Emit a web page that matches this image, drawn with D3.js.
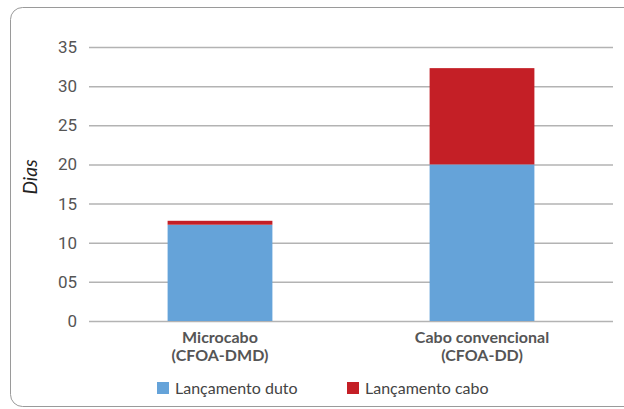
<!DOCTYPE html>
<html><head><meta charset="utf-8">
<script src="https://cdn.jsdelivr.net/npm/d3@7"></script>
<style>body{margin:0;background:#fff;}svg{display:block;}</style>
</head><body>
<script>
const categories = [["Microcabo","(CFOA-DMD)"],["Cabo convencional","(CFOA-DD)"]];
const seriesNames = ["Lançamento duto","Lançamento cabo"];
const dutoValues = [12.3, 20];
const caboValues = [0.5, 12.3];
const tickValues = [0,5,10,15,20,25,30,35];
const tickLabels = ["0","05","10","15","20","25","30","35"];
const colors = ["#65a3d9","#c41f26"];

const W=624,H=409;
const svg=d3.select("body").append("svg").attr("width",W).attr("height",H);
svg.append("rect").attr("x",10.5).attr("y",7.5).attr("width",640).attr("height",399)
  .attr("rx",12).attr("fill","#fff").attr("stroke","#9a9a9a").attr("stroke-width",1);

const x0=89,x1=613,yTop=47,yBot=321;
const x=d3.scaleBand().domain(d3.range(categories.length)).range([x0,x1]).paddingInner(0.6).paddingOuter(0.3);
const y=d3.scaleLinear().domain([0,35]).range([yBot,yTop]);

const yAxis=d3.axisLeft(y).tickValues(tickValues).tickSize(-(x1-x0)).tickFormat((d,i)=>tickLabels[i]);
const g=svg.append("g").attr("transform",`translate(${x0},0)`).call(yAxis);
g.select(".domain").remove();
g.selectAll(".tick line").attr("stroke","#b3b3b3").attr("stroke-width",1.5);
g.selectAll(".tick text").attr("x",-12).attr("fill","#555").style("font-family","Roboto, sans-serif").style("font-size","17px");

const stacked=d3.stack().keys([0,1])(categories.map((c,i)=>({0:dutoValues[i],1:caboValues[i]})));
stacked.forEach((s,k)=>{
  svg.append("g").selectAll("rect").data(s).join("rect")
    .attr("x",(d,i)=>x(i)).attr("width",x.bandwidth())
    .attr("y",d=>y(d[1])).attr("height",d=>y(d[0])-y(d[1]))
    .attr("fill",colors[k]);
});

categories.forEach((c,i)=>{
  const t=svg.append("text").attr("x",x(i)+x.bandwidth()/2).attr("y",343).attr("text-anchor","middle")
    .attr("fill","#555").style("font-family","Lato, sans-serif").style("font-weight","bold").style("font-size","16px");
  c.forEach((line,j)=>t.append("tspan").attr("x",x(i)+x.bandwidth()/2).attr("dy",j?18:0).text(line));
});

svg.append("text").attr("transform","translate(37,177) rotate(-90)").attr("text-anchor","middle")
  .attr("fill","#222").style("font-family","Lato, sans-serif").style("font-style","italic").style("font-size","19px").text("Dias");

const legX=[157,347];
seriesNames.forEach((n,k)=>{
  svg.append("rect").attr("x",legX[k]).attr("y",382).attr("width",12).attr("height",12).attr("fill",colors[k]);
  svg.append("text").attr("x",legX[k]+18).attr("y",393.5).attr("fill","#444")
    .style("font-family","Lato, sans-serif").style("font-size","16px").text(n);
});
</script>
</body></html>
